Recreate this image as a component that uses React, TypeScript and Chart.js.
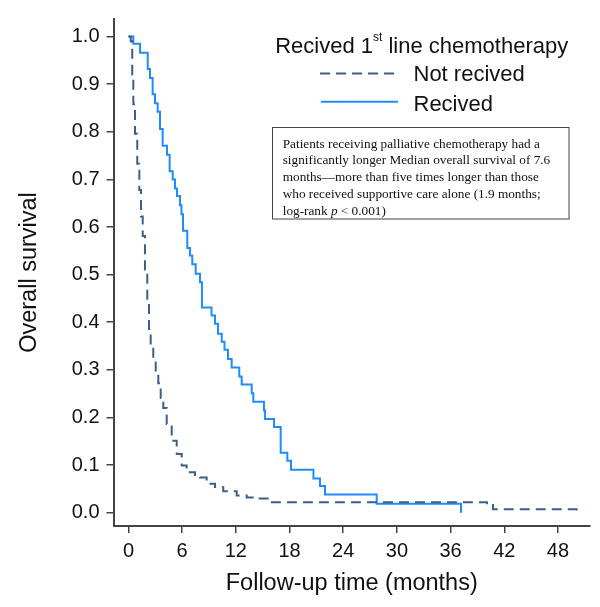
import React, { useEffect, useRef } from "react";
import { Chart, registerables } from "chart.js";

Chart.register(...registerables);

// ---- Data ----
const xTicks = [0, 6, 12, 18, 24, 30, 36, 42, 48];
const yTicks = [0, 0.1, 0.2, 0.3, 0.4, 0.5, 0.6, 0.7, 0.8, 0.9, 1.0];

const notReceivedTime = [
  0, 0.25, 0.42, 0.54, 0.73, 0.98, 1.21, 1.4, 1.59, 1.84, 2.1, 2.29, 2.48, 2.77, 3.04,
  3.33, 3.6, 3.89, 4.27, 4.83, 5.39, 5.95, 6.5, 7.43, 7.99, 8.74, 9.67, 10.59, 12.09,
  13.21, 14.33, 15.81, 40.06, 40.74, 50.09,
];
const notReceivedSurv = [
  1.0, 0.99, 0.92, 0.858, 0.796, 0.733, 0.678, 0.622, 0.581, 0.511, 0.442, 0.386, 0.352,
  0.321, 0.296, 0.272, 0.241, 0.22, 0.186, 0.151, 0.123, 0.099, 0.085, 0.079, 0.074,
  0.061, 0.054, 0.045, 0.036, 0.032, 0.03, 0.022, 0.016, 0.007, 0.0,
];

const receivedTime = [
  0, 0.54, 1.29, 2.15, 2.4, 2.7, 2.96, 3.26, 3.52, 3.82, 4.3, 4.6, 4.94, 5.2, 5.42, 5.76,
  5.92, 6.09, 6.57, 6.87, 7.13, 7.51, 7.99, 8.21, 9.28, 9.67, 10.0, 10.42, 10.73, 11.12,
  11.53, 12.38, 12.65, 13.77, 13.95, 15.14, 15.25, 16.26, 17.01, 17.75, 18.16, 20.67,
  21.4, 21.96, 27.74, 37.16,
];
const receivedSurv = [
  1.0, 0.985, 0.966, 0.932, 0.913, 0.879, 0.86, 0.842, 0.806, 0.771, 0.752, 0.717, 0.7,
  0.681, 0.665, 0.646, 0.627, 0.592, 0.556, 0.54, 0.522, 0.502, 0.484, 0.431, 0.414,
  0.397, 0.376, 0.359, 0.342, 0.323, 0.305, 0.286, 0.269, 0.251, 0.233, 0.215, 0.197,
  0.18, 0.126, 0.109, 0.09, 0.072, 0.056, 0.038, 0.019, 0.0,
];

const seriesNames = ["Not recived", "Recived"];
const legendTitleMain = "Recived 1";
const legendTitleSup = "st";
const legendTitleRest = " line chemotherapy";
const xTitle = "Follow-up time (months)";
const yTitle = "Overall survival";
const noteLines = [
  "Patients receiving palliative chemotherapy had a",
  "significantly longer Median overall survival of 7.6",
  "months\u2014more than five times longer than those",
  "who received supportive care alone (1.9 months;",
];
const noteLastPre = "log-rank ";
const noteLastItalic = "p";
const noteLastPost = " < 0.001)";

const dashedColor = "#3b5f88";
const solidColor = "#1e8cff";
const sans = '"Liberation Sans", Arial, sans-serif';
const serif = '"Liberation Serif", "Times New Roman", serif';

const overlayPlugin = {
  id: "overlay",
  afterDraw(chart: any) {
    const ctx = chart.ctx as CanvasRenderingContext2D;
    ctx.save();
    ctx.fillStyle = "#111";
    ctx.textBaseline = "alphabetic";
    ctx.textAlign = "left";

    // legend title
    ctx.font = `22px ${sans}`;
    const w1 = ctx.measureText(legendTitleMain).width;
    const w3 = ctx.measureText(legendTitleRest).width;
    ctx.font = `12px ${sans}`;
    const w2 = ctx.measureText(legendTitleSup).width;
    const total = w1 + w2 + w3;
    let x = 421.7 - total / 2;
    ctx.font = `22px ${sans}`;
    ctx.fillText(legendTitleMain, x, 53);
    ctx.font = `12px ${sans}`;
    ctx.fillText(legendTitleSup, x + w1, 41);
    ctx.font = `22px ${sans}`;
    ctx.fillText(legendTitleRest, x + w1 + w2, 53);

    // legend entries
    ctx.lineWidth = 2;
    ctx.strokeStyle = dashedColor;
    ctx.setLineDash([10, 6]);
    ctx.beginPath();
    ctx.moveTo(320, 73.5);
    ctx.lineTo(398, 73.5);
    ctx.stroke();
    ctx.setLineDash([]);
    ctx.strokeStyle = solidColor;
    ctx.beginPath();
    ctx.moveTo(321, 101.7);
    ctx.lineTo(398, 101.7);
    ctx.stroke();
    ctx.fillText(seriesNames[0], 413.5, 81);
    ctx.fillText(seriesNames[1], 413.5, 110.5);

    // annotation box
    ctx.strokeStyle = "#444";
    ctx.lineWidth = 1;
    ctx.strokeRect(272.5, 127.5, 296.5, 91.5);
    ctx.font = `13.25px ${serif}`;
    noteLines.forEach((ln, i) => ctx.fillText(ln, 282.7, 147.7 + 16.7 * i));
    const by = 147.7 + 16.7 * 4;
    let lx = 282.7;
    ctx.fillText(noteLastPre, lx, by);
    lx += ctx.measureText(noteLastPre).width;
    ctx.font = `italic 13.25px ${serif}`;
    ctx.fillText(noteLastItalic, lx, by);
    lx += ctx.measureText(noteLastItalic).width;
    ctx.font = `13.25px ${serif}`;
    ctx.fillText(noteLastPost, lx, by);
    ctx.restore();
  },
};

export default function App() {
  const ref = useRef<HTMLCanvasElement | null>(null);
  useEffect(() => {
    if (!ref.current) return;
    const chart = new Chart(ref.current, {
      type: "line",
      data: {
        datasets: [
          {
            label: seriesNames[0],
            data: notReceivedTime.map((t, i) => ({ x: t, y: notReceivedSurv[i] })),
            borderColor: dashedColor,
            borderWidth: 2,
            borderDash: [10, 6],
            stepped: true,
            pointRadius: 0,
            fill: false,
          },
          {
            label: seriesNames[1],
            data: receivedTime.map((t, i) => ({ x: t, y: receivedSurv[i] })),
            borderColor: solidColor,
            borderWidth: 2,
            stepped: true,
            pointRadius: 0,
            fill: false,
          },
        ],
      },
      options: {
        responsive: false,
        animation: false,
        layout: { padding: { top: 14, right: 10, bottom: 0, left: 0 } },
        plugins: { legend: { display: false }, tooltip: { enabled: false } },
        scales: {
          x: {
            type: "linear",
            min: -1.676,
            max: 51.58,
            afterBuildTicks: (s: any) => {
              s.ticks = xTicks.map((v) => ({ value: v }));
            },
            afterFit: (s: any) => {
              s.height = 81;
            },
            grid: { display: true, drawOnChartArea: false, drawTicks: true, tickLength: 7, color: "#444", lineWidth: 1.5 },
            border: { display: true, color: "#444", width: 2 },
            ticks: { color: "#111", padding: 6, maxRotation: 0, font: { family: sans, size: 20 }, callback: (v: any) => String(v) },
            title: { display: true, text: xTitle, color: "#111", font: { family: sans, size: 23.5 }, padding: { top: 0, bottom: 9 } },
          },
          y: {
            type: "linear",
            min: -0.028,
            max: 1.037,
            afterBuildTicks: (s: any) => {
              s.ticks = yTicks.map((v) => ({ value: v }));
            },
            afterFit: (s: any) => {
              s.width = 113.5;
            },
            grid: { display: true, drawOnChartArea: false, drawTicks: true, tickLength: 7, color: "#444", lineWidth: 1.5 },
            border: { display: true, color: "#444", width: 2 },
            ticks: { color: "#111", padding: 7, font: { family: sans, size: 20 }, callback: (v: any) => Number(v).toFixed(1) },
            title: { display: true, text: yTitle, color: "#111", font: { family: sans, size: 23.5 }, padding: { top: 15, bottom: 0 } },
          },
        },
      },
      plugins: [overlayPlugin],
    });
    return () => chart.destroy();
  }, []);
  return (
    <div style={{ position: "absolute", left: 0, top: 0, width: 600, height: 607, background: "#fff" }}>
      <canvas ref={ref} width={600} height={607} style={{ display: "block" }} />
    </div>
  );
}
